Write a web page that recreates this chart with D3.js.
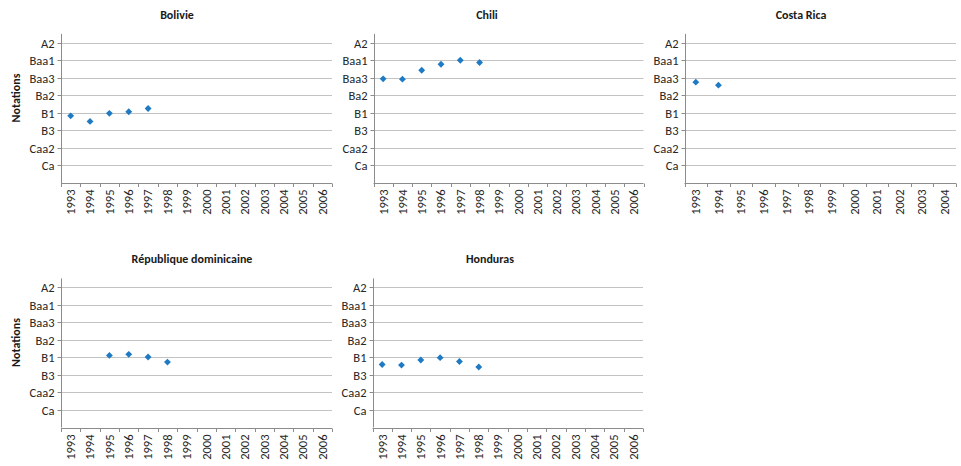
<!DOCTYPE html>
<html>
<head>
<meta charset="utf-8">
<script src="https://cdn.jsdelivr.net/npm/d3@7/dist/d3.min.js"></script>
<style>
  html, body { margin: 0; padding: 0; background: #fff; }
  svg { display: block; font-family: Carlito, Lato, "Open Sans", sans-serif; }
</style>
</head>
<body>
<svg id="chart" width="961" height="466"></svg>
<script>
// Years shown on the category axes
const years = ["1993","1994","1995","1996","1997","1998","1999","2000","2001","2002","2003","2004","2005","2006"];
const yearsCostaRica = ["1993","1994","1995","1996","1997","1998","1999","2000","2001","2002","2003","2004"];

// Rating scale: numeric position -> Moody's notation
const ratingValues = [1, 2, 3, 4, 5, 6, 7, 8];
const ratingLabels = ["Ca", "Caa2", "B3", "B1", "Ba2", "Baa3", "Baa1", "A2"];

// Average rating per year (null = no rating)
const bolivie = [3.83, 3.51, 3.97, 4.06, 4.25, null, null, null, null, null, null, null, null, null];
const chili = [5.94, 5.92, 6.43, 6.77, 7.0, 6.87, null, null, null, null, null, null, null, null];
const costaRica = [5.75, 5.58, null, null, null, null, null, null, null, null, null, null];
const repDominicaine = [null, null, 4.11, 4.17, 4.02, 3.73, null, null, null, null, null, null, null, null];
const honduras = [3.59, 3.56, 3.85, 3.98, 3.76, 3.45, null, null, null, null, null, null, null, null];

const panels = [
  { title: "Bolivie", cats: years, values: bolivie, left: 61, right: 332, bottom: 183, tx: 177, ty: 15, ylabel: true },
  { title: "Chili", cats: years, values: chili, left: 373.5, right: 643.5, bottom: 183, tx: 487, ty: 15, ylabel: false },
  { title: "Costa Rica", cats: yearsCostaRica, values: costaRica, left: 684.5, right: 956, bottom: 183, tx: 801, ty: 15, ylabel: false },
  { title: "République dominicaine", cats: years, values: repDominicaine, left: 61, right: 332, bottom: 427.5, tx: 192, ty: 259, ylabel: true },
  { title: "Honduras", cats: years, values: honduras, left: 372.5, right: 643, bottom: 427.5, tx: 490, ty: 259, ylabel: false }
];

const unit = 17.54;          // pixels per rating step
const yMax = 8.5;
const gridColor = "#c3c3c3";
const axisColor = "#8c8c8c";
const markColor = "#1f7ac4";
const textColor = "#262626";
const tickFont = "12.5px";
const titleFont = "12px";

const svg = d3.select("#chart");
const diamond = d3.symbolDiamond2 || d3.symbolSquare;

panels.forEach(p => {
  const g = svg.append("g");
  const x = d3.scaleBand().domain(p.cats).range([p.left, p.right]).padding(0);
  const y = d3.scaleLinear().domain([0, yMax]).range([p.bottom, p.bottom - yMax * unit]);
  const snap = v => Math.round(v) + 0.5;

  // horizontal gridlines
  g.append("g").selectAll("line").data(ratingValues).join("line")
    .attr("x1", p.left).attr("x2", p.right)
    .attr("y1", d => snap(y(d))).attr("y2", d => snap(y(d)))
    .attr("stroke", gridColor).attr("stroke-width", 1);

  // y axis with rating labels
  const yAxis = d3.axisLeft(y).tickValues(ratingValues)
    .tickFormat(d => ratingLabels[ratingValues.indexOf(d)])
    .tickSize(4).tickSizeOuter(0).tickPadding(3);
  const ya = g.append("g").attr("transform", `translate(${snap(p.left)},0)`).call(yAxis);
  ya.attr("font-family", null).attr("font-size", null);
  ya.select(".domain").remove();
  ya.selectAll(".tick").attr("transform", d => `translate(0,${snap(y(d))})`);
  ya.selectAll(".tick line").attr("stroke", axisColor);
  ya.selectAll(".tick text").attr("fill", textColor).style("font-size", tickFont);
  g.append("line")
    .attr("x1", snap(p.left)).attr("x2", snap(p.left))
    .attr("y1", y(0)).attr("y2", y(yMax))
    .attr("stroke", axisColor);

  // x axis: year labels at band centres, ticks on band boundaries
  const xAxis = d3.axisBottom(x).tickSize(0).tickPadding(0);
  const xa = g.append("g").attr("transform", `translate(0,${snap(p.bottom)})`).call(xAxis);
  xa.attr("font-family", null).attr("font-size", null);
  xa.select(".domain").attr("stroke", axisColor).attr("d", `M${p.left},0H${p.right}`);
  xa.selectAll(".tick text")
    .attr("fill", textColor).style("font-size", tickFont)
    .attr("transform", "rotate(-90)")
    .attr("text-anchor", "end")
    .attr("x", -6).attr("y", 0).attr("dy", "0.35em");
  const bounds = p.cats.map(c => x(c)).concat([p.right]);
  g.append("g").selectAll("line").data(bounds).join("line")
    .attr("x1", d => snap(d)).attr("x2", d => snap(d))
    .attr("y1", snap(p.bottom)).attr("y2", snap(p.bottom) + 3.5)
    .attr("stroke", axisColor);

  // points
  const pts = p.cats.map((c, i) => ({ c, v: p.values[i] })).filter(d => d.v != null);
  g.append("g").selectAll("path").data(pts).join("path")
    .attr("d", d3.symbol().type(diamond).size(d3.symbolDiamond2 ? 30 : 15))
    .attr("transform", d => `translate(${x(d.c) + x.bandwidth() / 2},${y(d.v)})${d3.symbolDiamond2 ? "" : " rotate(45)"}`)
    .attr("fill", markColor);

  // title
  g.append("text").attr("x", p.tx).attr("y", p.ty).attr("dy", "0.35em")
    .attr("text-anchor", "middle").attr("font-weight", "bold")
    .style("font-size", titleFont).attr("fill", "#1a1a1a").text(p.title);

  if (p.ylabel) {
    const cy = p.bottom - 4.85 * unit;
    g.append("text")
      .attr("transform", `translate(16,${cy}) rotate(-90)`)
      .attr("dy", "0.35em").attr("text-anchor", "middle").attr("font-weight", "bold")
      .style("font-size", titleFont).attr("fill", "#1a1a1a").text("Notations");
  }
});
</script>
</body>
</html>
